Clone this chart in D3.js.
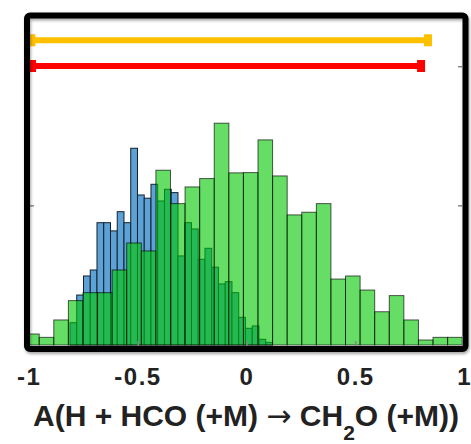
<!DOCTYPE html>
<html>
<head>
<meta charset="utf-8">
<script src="https://cdn.jsdelivr.net/npm/d3@7"></script>
<style>
  body { margin: 0; background: #fff; }
  svg { display: block; }
  text { font-family: "Liberation Sans", Arial, sans-serif; font-weight: bold; fill: #222; }
</style>
</head>
<body>
<svg width="471" height="444"></svg>
<script>
// wide-bin histogram (green), 30 bins
const greenStart = -1.021
const greenBinWidth = 0.067
const greenCounts = [7.9, 5.5, 18, 31.9, 37.6, 37.6, 53.9, 73.3, 67.6, 125.6,
  101.6, 113.6, 119.6, 159.4, 123.7, 123.9, 147.4, 121.5, 93.5, 95.4,
  101.6, 47.4, 49.6, 39.5, 23.9, 35.5, 18, 3.6, 5.5, 5.5]

// narrow-bin histogram (blue), 30 bins
const blueStart = -0.8126
const blueBinWidth = 0.031
const blueCounts = [16, 35.9, 49.6, 53.9, 87.9, 87.9, 82, 95.8, 87.9, 141.4,
  107.8, 105.5, 115.5, 103.5, 111.9, 109.5, 64, 87.9, 83.4, 61.6,
  69.5, 55.9, 43.9, 45.5, 37.6, 19.9, 12, 13.7, 4.1, 1.9]

// the two range bars at the top
const rangeLo = [-0.99, -0.987]
const rangeHi = [0.832, 0.80]
const rangeLevel = [219, 200.5]

const xTicks = [-1, -0.5, 0, 0.5, 1]
const xTickLabels = ['-1', '-0.5', '0', '0.5', '1']
const yTicks = [100, 200]

const rangeColors = ['#ffc000', '#ff0000']

const svg = d3.select('svg')
const x = d3.scaleLinear().domain([-1, 1]).range([29.2, 464.6])
const y = d3.scaleLinear().domain([0, 235]).range([345, 18])

const defs = svg.append('defs')
defs.append('clipPath').attr('id', 'plot')
  .append('rect').attr('x', 30).attr('y', 18).attr('width', 432).attr('height', 328)
const shadow = defs.append('filter').attr('id', 'shadow')
  .attr('x', -0.05).attr('y', -0.05).attr('width', 1.1).attr('height', 1.1)
shadow.append('feDropShadow').attr('dx', 1).attr('dy', 2)
  .attr('stdDeviation', 1.5).attr('flood-color', '#000').attr('flood-opacity', 0.35)

const bins = (start, w, counts) => counts.map((c, i) => ({ x0: start + i * w, x1: start + (i + 1) * w, c }))

const plot = svg.append('g').attr('clip-path', 'url(#plot)')

// blue underneath
plot.append('g').selectAll('rect')
  .data(bins(blueStart, blueBinWidth, blueCounts))
  .join('rect')
  .attr('x', (d) => x(d.x0))
  .attr('width', (d) => x(d.x1) - x(d.x0))
  .attr('y', (d) => y(d.c))
  .attr('height', (d) => y(0) - y(d.c))
  .attr('fill', '#5ca2d6')
  .attr('stroke', '#14202c')
  .attr('stroke-width', 1)

// translucent green over it, the overlap turns dark green
plot.append('g').selectAll('rect')
  .data(bins(greenStart, greenBinWidth, greenCounts))
  .join('rect')
  .attr('x', (d) => x(d.x0))
  .attr('width', (d) => x(d.x1) - x(d.x0))
  .attr('y', (d) => y(d.c))
  .attr('height', (d) => y(0) - y(d.c))
  .attr('fill', 'rgb(0,200,0)')
  .attr('fill-opacity', 0.6)
  .attr('stroke', '#000')
  .attr('stroke-opacity', 0.65)
  .attr('stroke-width', 1)

// small ticks inside the frame
const ticks = svg.append('g').attr('stroke', '#888').attr('stroke-width', 1.5)
yTicks.forEach((t) => {
  ticks.append('line').attr('x1', 30).attr('x2', 34).attr('y1', y(t)).attr('y2', y(t))
  ticks.append('line').attr('x1', 458).attr('x2', 462).attr('y1', y(t)).attr('y2', y(t))
})
xTicks.slice(1, -1).forEach((t) => {
  ticks.append('line').attr('x1', x(t)).attr('x2', x(t)).attr('y1', 346).attr('y2', 341)
})

// range bars with end caps
const ranges = rangeLo.map((lo, i) => ({ lo, hi: rangeHi[i], level: rangeLevel[i], color: rangeColors[i] }))
const rg = svg.append('g').selectAll('g').data(ranges).join('g')
rg.append('line')
  .attr('x1', (d) => x(d.lo)).attr('x2', (d) => x(d.hi))
  .attr('y1', (d) => y(d.level)).attr('y2', (d) => y(d.level))
  .attr('stroke', (d) => d.color)
  .attr('stroke-width', 6)
rg.selectAll('rect')
  .data((d) => [d.lo, d.hi].map((v) => ({ v, level: d.level, color: d.color })))
  .join('rect')
  .attr('x', (d) => x(d.v) - 4)
  .attr('y', (d) => y(d.level) - 6)
  .attr('width', 8)
  .attr('height', 12)
  .attr('fill', (d) => d.color)

// heavy frame
svg.append('rect')
  .attr('x', 27).attr('y', 15.5)
  .attr('width', 438.5).attr('height', 333.5)
  .attr('rx', 3)
  .attr('fill', 'none')
  .attr('stroke', '#000')
  .attr('stroke-width', 6)
  .attr('filter', 'url(#shadow)')

// tick labels
svg.append('g').selectAll('text')
  .data(xTicks)
  .join('text')
  .attr('x', (d) => x(d))
  .attr('y', 384.5)
  .attr('text-anchor', 'middle')
  .attr('font-size', 24)
  .attr('letter-spacing', 1.5)
  .text((d, i) => xTickLabels[i])

// axis title
const title = svg.append('text')
  .attr('x', 246)
  .attr('y', 426)
  .attr('text-anchor', 'middle')
  .attr('font-size', 30)
title.append('tspan').text('A(H + HCO (+M) ')
title.append('tspan').attr('font-weight', 'normal').attr('font-family', 'DejaVu Sans').text('→')
title.append('tspan').text(' CH')
title.append('tspan').attr('font-size', 21).attr('dy', 14).text('2')
title.append('tspan').attr('dy', -14).text('O (+M))')
</script>
</body>
</html>
